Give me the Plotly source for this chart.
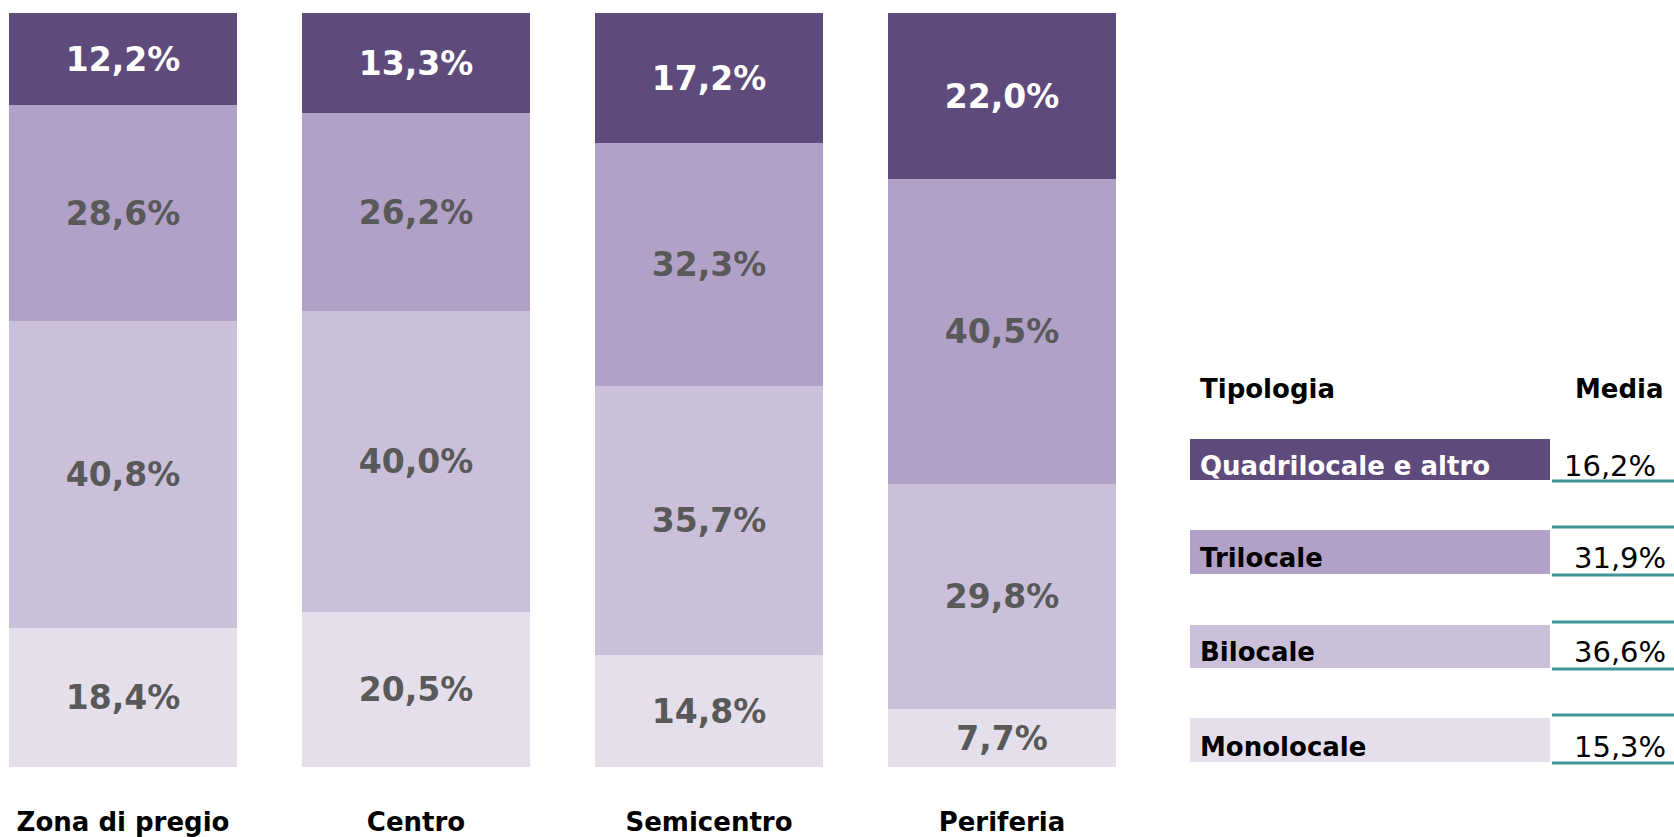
import plotly.graph_objects as go

# ---------------- data ----------------
categories = ["Zona di pregio", "Centro", "Semicentro", "Periferia"]
series_names = ["Monolocale", "Bilocale", "Trilocale", "Quadrilocale e altro"]
monolocale = [18.4, 20.5, 14.8, 7.7]
bilocale = [40.8, 40.0, 35.7, 29.8]
trilocale = [28.6, 26.2, 32.3, 40.5]
quadrilocale = [12.2, 13.3, 17.2, 22.0]

legend_rows = ["Quadrilocale e altro", "Trilocale", "Bilocale", "Monolocale"]
media_values = [16.2, 31.9, 36.6, 15.3]

# ---------------- style ----------------
W, H = 1674, 837
MB = 70
PH = H - MB  # plot area height in px
FONT = "DejaVu Sans"
colors = {
    "Monolocale": "#E5DFEC",
    "Bilocale": "#CBC0DA",
    "Trilocale": "#B1A1C7",
    "Quadrilocale e altro": "#5F4B7B",
}
text_colors = {
    "Monolocale": "#595959",
    "Bilocale": "#595959",
    "Trilocale": "#595959",
    "Quadrilocale e altro": "#FFFFFF",
}
TEAL = "#3F9498"

def px_x(p):
    return p / W

def px_y(p):
    return (PH - p) / PH

fig = go.Figure()
for name, vals in zip(series_names, [monolocale, bilocale, trilocale, quadrilocale]):
    fig.add_trace(go.Bar(
        x=list(range(len(categories))),
        y=vals,
        name=name,
        width=0.775,
        marker=dict(color=colors[name], line=dict(width=0)),
        texttemplate="%{y:.1f}%",
        textposition="inside",
        insidetextanchor="middle",
        constraintext="none",
        textangle=0,
        textfont=dict(family=FONT, size=33, color=text_colors[name], weight="bold"),
        hoverinfo="skip",
    ))

# category spacing: 293 px per unit, category 0 centred at 123 px
unit = 293.0
x0 = -123.0 / unit
x1 = (W - 123.0) / unit
top = 100 + 13.0 * 100 / (PH - 13.0)

fig.update_layout(
    width=W, height=H,
    barmode="stack",
    bargap=0,
    separators=",.",
    showlegend=False,
    plot_bgcolor="white",
    paper_bgcolor="white",
    margin=dict(l=0, r=0, t=0, b=MB),
    xaxis=dict(
        range=[x0, x1],
        tickmode="array",
        tickvals=list(range(len(categories))),
        ticktext=categories,
        tickfont=dict(family=FONT, size=26, color="black", weight="bold"),
        showgrid=False, zeroline=False, showline=False, ticks="",
        ticklabelstandoff=37,
        fixedrange=True,
    ),
    yaxis=dict(range=[0, top], visible=False, fixedrange=True),
)

shapes = []
annotations = []

# headers
annotations.append(dict(x=px_x(1198), y=px_y(389), xref="paper", yref="paper",
                        text="Tipologia", showarrow=False, xanchor="left", yanchor="middle",
                        font=dict(family=FONT, size=26, color="black", weight="bold")))
annotations.append(dict(x=px_x(1619), y=px_y(389), xref="paper", yref="paper",
                        text="Media", showarrow=False, xanchor="center", yanchor="middle",
                        font=dict(family=FONT, size=26, color="black", weight="bold")))

row_rects = [(439, 480), (530, 574), (625, 668), (718, 762)]
row_text_y = [466, 558, 652, 747]
value_x = [1610, 1620, 1620, 1620]
for i, (name, val) in enumerate(zip(legend_rows, media_values)):
    y_top, y_bot = row_rects[i]
    shapes.append(dict(type="rect", xref="paper", yref="paper",
                       x0=px_x(1190), x1=px_x(1550), y0=px_y(y_bot), y1=px_y(y_top),
                       fillcolor=colors[name], line=dict(width=0), layer="above"))
    # teal lines around value cell
    shapes.append(dict(type="line", xref="paper", yref="paper",
                       x0=px_x(1552), x1=px_x(W), y0=px_y(y_bot + 1), y1=px_y(y_bot + 1),
                       line=dict(color=TEAL, width=3), layer="above"))
    if i > 0:
        shapes.append(dict(type="line", xref="paper", yref="paper",
                           x0=px_x(1552), x1=px_x(W), y0=px_y(y_top - 3), y1=px_y(y_top - 3),
                           line=dict(color=TEAL, width=3), layer="above"))
    annotations.append(dict(x=px_x(1198), y=px_y(row_text_y[i]), xref="paper", yref="paper",
                            text=name, showarrow=False, xanchor="left", yanchor="middle",
                            font=dict(family=FONT, size=26,
                                      color="white" if i == 0 else "black", weight="bold")))
    annotations.append(dict(x=px_x(value_x[i]), y=px_y(row_text_y[i]), xref="paper", yref="paper",
                            text=f"{val:.1f}%".replace(".", ","), showarrow=False,
                            xanchor="center", yanchor="middle",
                            font=dict(family=FONT, size=29, color="black")))

fig.update_layout(shapes=shapes, annotations=annotations)
fig.write_html("out.html", config={"displayModeBar": False},
               post_script="document.body.style.margin='0px';")
